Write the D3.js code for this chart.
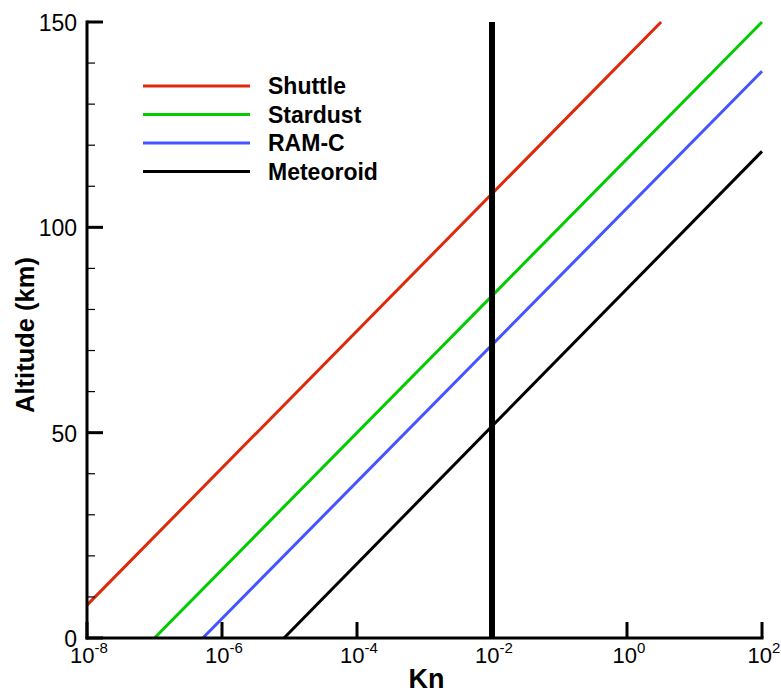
<!DOCTYPE html>
<html>
<head>
<meta charset="utf-8">
<script src="https://cdn.jsdelivr.net/npm/d3@7"></script>
<style>
  html, body { margin: 0; padding: 0; background: #fff; }
  svg { display: block; font-family: "Liberation Sans", Arial, Helvetica, sans-serif; }
</style>
</head>
<body>
<svg id="chart" width="781" height="691"></svg>
<script>
// Knudsen number vs. altitude for several entry bodies (straight lines on log-Kn axis)
const seriesNames = ["Shuttle", "Stardust", "RAM-C", "Meteoroid"];
const seriesColors = ["#dd2a0a", "#00cc00", "#4455ff", "#000000"];
// endpoints of each line: [Kn start, Kn end] and [altitude start, altitude end] (km)
const shuttleKn = [1e-8, 3.2];
const shuttleAlt = [8, 150];
const stardustKn = [1e-7, 100];
const stardustAlt = [0, 150];
const ramcKn = [5.2e-7, 100];
const ramcAlt = [0, 138];
const meteoroidKn = [8.3e-6, 100];
const meteoroidAlt = [0, 118.5];
const kneeKn = 1e-2; // continuum / transitional boundary marker

const xTickExps = [-8, -6, -4, -2, 0, 2];
const yMajorTicks = [0, 50, 100, 150];
const yMinorTicks = d3.range(0, 151, 10);

const seriesKn = [shuttleKn, stardustKn, ramcKn, meteoroidKn];
const seriesAlt = [shuttleAlt, stardustAlt, ramcAlt, meteoroidAlt];

const svg = d3.select("#chart");
const m = { left: 87, right: 762, top: 22, bottom: 638 };

const x = d3.scaleLog().domain([1e-8, 1e2]).range([m.left, m.right]);
const y = d3.scaleLinear().domain([0, 150]).range([m.bottom, m.top]);

const line = d3.line().x(d => x(d[0])).y(d => y(d[1]));

// data lines
seriesNames.forEach((name, i) => {
  const pts = seriesKn[i].map((k, j) => [k, seriesAlt[i][j]]);
  svg.append("path")
    .attr("d", line(pts))
    .attr("fill", "none")
    .attr("stroke", seriesColors[i])
    .attr("stroke-width", 3);
});

// thick vertical marker at Kn = 0.01
svg.append("line")
  .attr("x1", x(kneeKn)).attr("x2", x(kneeKn))
  .attr("y1", y(150)).attr("y2", y(0))
  .attr("stroke", "#000").attr("stroke-width", 6);

// y axis: inward ticks on the left edge
const yAxis = svg.append("g");
yAxis.append("line")
  .attr("x1", m.left).attr("x2", m.left)
  .attr("y1", y(150) - 1.5).attr("y2", y(0) + 1.5)
  .attr("stroke", "#000").attr("stroke-width", 3);
yMinorTicks.forEach(v => {
  const major = yMajorTicks.includes(v);
  yAxis.append("line")
    .attr("x1", m.left).attr("x2", m.left + (major ? 16 : 8))
    .attr("y1", y(v)).attr("y2", y(v))
    .attr("stroke", "#000").attr("stroke-width", major ? 3 : 1.2);
});
yMajorTicks.forEach(v => {
  yAxis.append("text")
    .attr("x", m.left - 10).attr("y", y(v) + 9)
    .attr("text-anchor", "end")
    .attr("font-size", 23)
    .text(v);
});

// x axis: decade ticks pointing up
const xAxis = svg.append("g");
xAxis.append("line")
  .attr("x1", m.left - 1.5).attr("x2", m.right + 1.5)
  .attr("y1", m.bottom).attr("y2", m.bottom)
  .attr("stroke", "#000").attr("stroke-width", 3);
xTickExps.forEach(e => {
  const v = Math.pow(10, e);
  xAxis.append("line")
    .attr("x1", x(v)).attr("x2", x(v))
    .attr("y1", m.bottom).attr("y2", m.bottom - 16)
    .attr("stroke", "#000").attr("stroke-width", 3);
  const t = xAxis.append("text")
    .attr("x", x(v) + 2).attr("y", 663)
    .attr("text-anchor", "middle")
    .attr("font-size", 22);
  t.append("tspan").text("10");
  t.append("tspan").attr("dy", -10).attr("font-size", 15).text(e);
});

// axis titles
svg.append("text")
  .attr("x", (m.left + m.right) / 2 + 2).attr("y", 688)
  .attr("text-anchor", "middle")
  .attr("font-size", 27).attr("font-weight", "bold")
  .text("Kn");
svg.append("text")
  .attr("transform", `translate(34, 335) rotate(-90)`)
  .attr("text-anchor", "middle")
  .attr("font-size", 25.5).attr("font-weight", "bold")
  .text("Altitude (km)");

// legend
const legend = svg.append("g");
seriesNames.forEach((name, i) => {
  const ly = 86 + i * 28.5;
  legend.append("line")
    .attr("x1", 143).attr("x2", 250)
    .attr("y1", ly).attr("y2", ly)
    .attr("stroke", seriesColors[i]).attr("stroke-width", 3);
  legend.append("text")
    .attr("x", 268).attr("y", ly + 8)
    .attr("font-size", 23).attr("font-weight", "bold")
    .text(name);
});
</script>
</body>
</html>
